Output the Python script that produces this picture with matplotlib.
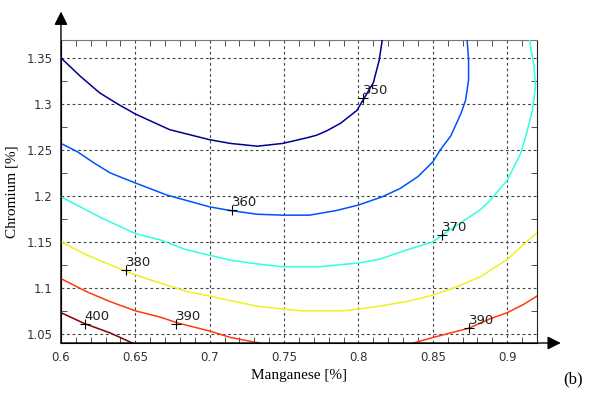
import matplotlib.pyplot as plt
from matplotlib.ticker import MultipleLocator

# Contour lines (Manganese %, Chromium %)
LEVELS = [350, 360, 370, 380, 390, 390, 400]

MN_350 = [0.600, 0.613, 0.626, 0.638, 0.650, 0.673, 0.700, 0.714, 0.732, 0.749, 0.765,
          0.772, 0.779, 0.788, 0.799, 0.803, 0.810, 0.814, 0.816]
CR_350 = [1.350, 1.330, 1.312, 1.300, 1.289, 1.272, 1.261, 1.257, 1.254, 1.257, 1.263,
          1.266, 1.271, 1.279, 1.293, 1.304, 1.323, 1.348, 1.370]

MN_360 = [0.600, 0.611, 0.622, 0.633, 0.650, 0.671, 0.700, 0.714, 0.732, 0.749, 0.767,
          0.785, 0.800, 0.816, 0.828, 0.840, 0.850, 0.855, 0.862, 0.869, 0.872, 0.874,
          0.874, 0.873]
CR_360 = [1.257, 1.248, 1.236, 1.225, 1.214, 1.201, 1.188, 1.184, 1.180, 1.179, 1.179,
          1.184, 1.190, 1.199, 1.208, 1.221, 1.237, 1.250, 1.265, 1.290, 1.304, 1.326,
          1.348, 1.370]

MN_370 = [0.600, 0.613, 0.626, 0.650, 0.667, 0.683, 0.714, 0.732, 0.749, 0.774, 0.800,
          0.814, 0.832, 0.850, 0.857, 0.868, 0.882, 0.889, 0.900, 0.909, 0.913, 0.917,
          0.919, 0.918, 0.916, 0.915]
CR_370 = [1.199, 1.188, 1.177, 1.159, 1.152, 1.142, 1.130, 1.126, 1.123, 1.123, 1.127,
          1.131, 1.141, 1.150, 1.158, 1.170, 1.185, 1.196, 1.217, 1.246, 1.268, 1.294,
          1.319, 1.341, 1.359, 1.370]

MN_380 = [0.600, 0.617, 0.633, 0.650, 0.667, 0.685, 0.700, 0.714, 0.732, 0.749, 0.761,
          0.790, 0.800, 0.814, 0.832, 0.850, 0.866, 0.882, 0.900, 0.913, 0.920]
CR_380 = [1.150, 1.136, 1.125, 1.114, 1.105, 1.096, 1.091, 1.086, 1.080, 1.077, 1.075,
          1.075, 1.077, 1.080, 1.085, 1.092, 1.101, 1.112, 1.131, 1.150, 1.160]

MN_390A = [0.600, 0.617, 0.633, 0.650, 0.667, 0.678, 0.700, 0.714, 0.730, 0.734]
CR_390A = [1.110, 1.096, 1.085, 1.075, 1.068, 1.062, 1.053, 1.046, 1.041, 1.040]

MN_390B = [0.837, 0.850, 0.874, 0.888, 0.900, 0.911, 0.920]
CR_390B = [1.040, 1.046, 1.056, 1.066, 1.073, 1.082, 1.091]

MN_400 = [0.600, 0.616, 0.633, 0.648]
CR_400 = [1.073, 1.061, 1.051, 1.040]

LINES_MN = [MN_350, MN_360, MN_370, MN_380, MN_390A, MN_390B, MN_400]
LINES_CR = [CR_350, CR_360, CR_370, CR_380, CR_390A, CR_390B, CR_400]

# clabel positions
LABEL_MN = [0.803, 0.715, 0.856, 0.644, 0.677, 0.874, 0.616]
LABEL_CR = [1.306, 1.185, 1.157, 1.119, 1.0605, 1.056, 1.0605]
LABEL_TXT = ["350", "360", "370", "380", "390", "390", "400"]

COLORS = ["#00008f", "#0050ff", "#30ffe0", "#f0f020", "#ff3a10", "#ff3a10", "#800000"]

fig = plt.figure(figsize=(5.96, 3.97), dpi=100)
ax = fig.add_axes([0.1023, 0.136, 0.7987, 0.7645])

for mn, cr, col in zip(LINES_MN, LINES_CR, COLORS):
    ax.plot(mn, cr, color=col, lw=1.1, zorder=3)

for x, y, t in zip(LABEL_MN, LABEL_CR, LABEL_TXT):
    ax.plot(x, y, marker="+", color="k", ms=7, mew=0.8, zorder=4)
    ax.text(x, y + 0.001, t, fontsize=9.5, color="#222222", ha="left", va="bottom", zorder=5)

ax.set_xlim(0.6, 0.92)
ax.set_ylim(1.04, 1.37)
ax.xaxis.set_minor_locator(MultipleLocator(0.01))
ax.yaxis.set_minor_locator(MultipleLocator(0.025))
ax.set_xticks([0.6, 0.65, 0.7, 0.75, 0.8, 0.85, 0.9])
ax.set_xticklabels(["0.6", "0.65", "0.7", "0.75", "0.8", "0.85", "0.9"])
ax.set_yticks([1.05, 1.1, 1.15, 1.2, 1.25, 1.3, 1.35])
ax.set_yticklabels(["1.05", "1.1", "1.15", "1.2", "1.25", "1.3", "1.35"])
ax.tick_params(which="both", direction="in", top=True, right=True, labelsize=8.5,
               labelcolor="#333333", color="#333333")
ax.tick_params(which="major", length=0, pad=6)
ax.tick_params(which="minor", length=4)

ax.grid(True, which="major", color="#444444", linestyle=(0, (2.5, 2.5)), lw=0.8)

ax.spines["top"].set_color("#777777")
ax.spines["right"].set_color("#222222")
ax.spines["left"].set_color("k")
ax.spines["bottom"].set_color("k")

# axis arrows
ax.annotate("", xy=(0, 1.092), xytext=(0, 0), xycoords="axes fraction",
            arrowprops=dict(arrowstyle="-|>", color="k", lw=1.0, mutation_scale=20,
                            shrinkA=0, shrinkB=0), annotation_clip=False)
ax.annotate("", xy=(1.05, 0), xytext=(0, 0), xycoords="axes fraction",
            arrowprops=dict(arrowstyle="-|>", color="k", lw=1.0, mutation_scale=20,
                            shrinkA=0, shrinkB=0), annotation_clip=False)

ax.set_xlabel("Manganese [%]", family="Liberation Serif", fontsize=11, labelpad=3)
ax.set_ylabel("Chromium [%]", family="Liberation Serif", fontsize=11, labelpad=6)
fig.text(0.978, 0.025, "(b)", family="Liberation Serif", fontsize=12, ha="right", va="bottom")

plt.savefig("out.png", dpi=100)
